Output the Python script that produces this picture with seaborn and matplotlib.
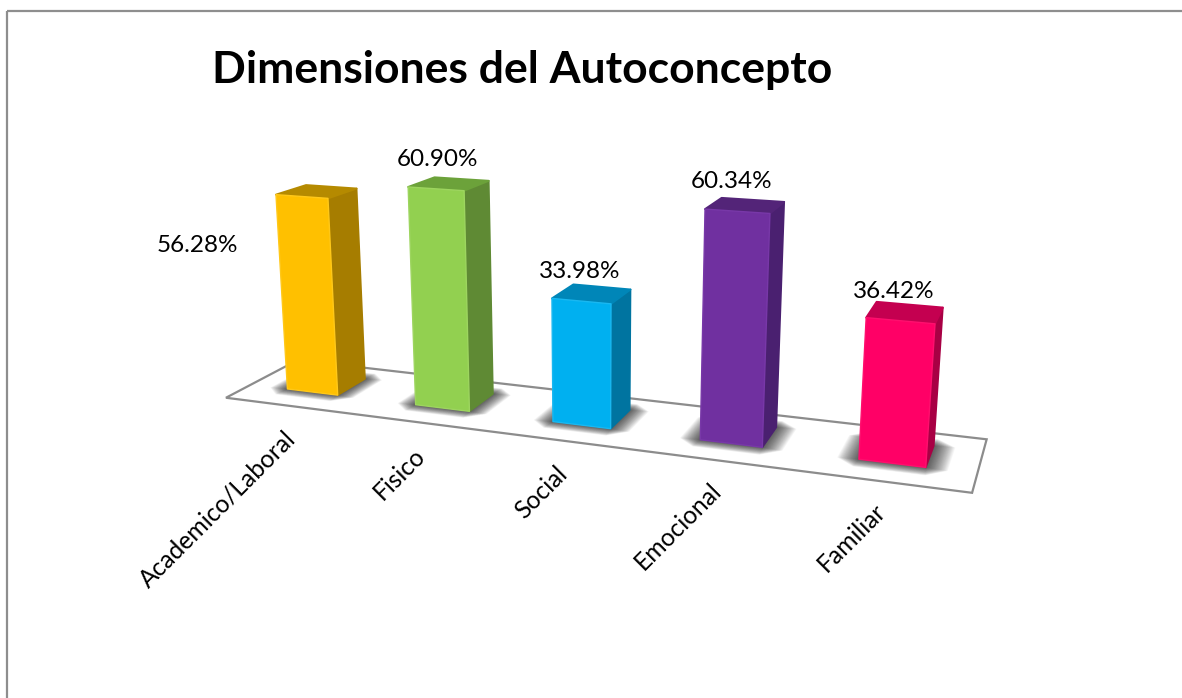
import numpy as np
import pandas as pd
import matplotlib
matplotlib.use("Agg")
import matplotlib.pyplot as plt
import seaborn as sns
from matplotlib.patches import Polygon, Rectangle
from matplotlib.transforms import Affine2D, Transform

categories = ["Academico/Laboral", "Fisico", "Social", "Emocional", "Familiar"]
values = [56.28, 60.90, 33.98, 60.34, 36.42]
value_labels = ["56.28%", "60.90%", "33.98%", "60.34%", "36.42%"]
front_colors = ["#FFC000", "#92D050", "#00B0F0", "#7030A0", "#FF0066"]
side_colors = ["#A67D00", "#5F8A34", "#0074A0", "#4A2070", "#A80044"]
top_colors = ["#B58A00", "#6CA23A", "#0086B8", "#532478", "#C40050"]
rim_colors = ["#FFC819", "#9DD55F", "#19B8F1", "#7838A8", "#FF0F6E"]

title = "Dimensiones del Autoconcepto"

# Camera of the 3D view: (category, value, depth, 1) -> image pixels
CAMERA = np.array([
    [115.25129, -0.382353, 40.095747, 312.386233],
    [2.412947, -3.600643, -2.69024, 392.018095],
    [-0.033258, -0.000643, 0.035584, 1.0],
])
BAR_WIDTH = 0.40
BAR_DEPTH = 1.0
FLOOR_X = (-0.495, 4.50)
FLOOR_Z = (-0.80, 1.60)

WIDTH, HEIGHT = 1182, 698


def project(x, v, z):
    """Project world points to image pixels."""
    world = np.column_stack([x, v, z, np.ones_like(x, dtype=float)])
    h = world @ CAMERA.T
    return h[:, :2] / h[:, 2:]


class FrontPlane(Transform):
    """Perspective map of the category/value plane at depth zero."""
    input_dims = output_dims = 2
    is_affine = False

    def transform_non_affine(self, xy):
        xy = np.asarray(xy, dtype=float)
        return project(xy[:, 0], xy[:, 1], np.zeros(len(xy)))


sns.set_theme(style="white")
plt.rcParams["font.family"] = ["Lato", "DejaVu Sans"]

fig = plt.figure(figsize=(WIDTH / 100, HEIGHT / 100), dpi=100, facecolor="white")
ax = fig.add_axes([0, 0, 1, 1])

frame = pd.DataFrame({"dimension": categories, "percent": values})
sns.barplot(data=frame, x="dimension", y="percent", hue="dimension",
            palette=front_colors, width=BAR_WIDTH, saturation=1,
            legend=False, dodge=False, ax=ax, zorder=5)
ax.set_axis_off()

pixels = Affine2D().scale(1, -1).translate(0, HEIGHT)
front_tf = FrontPlane() + pixels

# Chart frame runs off the right and bottom of the canvas
fig.add_artist(Rectangle((7, 10.5), WIDTH + 100, HEIGHT + 100, transform=pixels,
                         fill=False, edgecolor="#8E8E8E", linewidth=1.6))


def face(xs, vs, zs, **kw):
    pts = project(np.array(xs, float), np.array(vs, float), np.array(zs, float))
    ax.add_patch(Polygon(pts, closed=True, transform=pixels, clip_on=False, **kw))


# Floor plate
x0, x1 = FLOOR_X
z0, z1 = FLOOR_Z
face([x0, x1, x1, x0], [0, 0, 0, 0], [z0, z0, z1, z1],
     facecolor="white", edgecolor="#8C8C8C", linewidth=1.6, zorder=1, joinstyle="miter")

bars = [b for b in ax.patches if isinstance(b, Rectangle) and b.get_height() > 0][:len(categories)]

# Soft contact shadows on the floor
for bar in bars:
    l, r = bar.get_x(), bar.get_x() + bar.get_width()
    for m in np.linspace(0.13, 0.0, 26):
        mz = m * 2.6
        cx, cz = m * 0.9, mz * 0.9
        xs = [l - m + cx, r + m - cx, r + m, r + m, r + m - cx, l - m + cx, l - m, l - m]
        zs = [-mz, -mz, -mz + cz, BAR_DEPTH + mz - cz, BAR_DEPTH + mz, BAR_DEPTH + mz,
              BAR_DEPTH + mz - cz, -mz + cz]
        face(xs, [0] * 8, zs, facecolor="black", edgecolor="none", alpha=0.035, zorder=2)

# Side and top faces follow each bar drawn by seaborn
for bar, side, top, rim in zip(bars, side_colors, top_colors, rim_colors):
    l, r, v = bar.get_x(), bar.get_x() + bar.get_width(), bar.get_height()
    face([r, r, r, r], [0, v, v, 0], [0, 0, BAR_DEPTH, BAR_DEPTH],
         facecolor=side, edgecolor=side, linewidth=1.2, zorder=3, joinstyle="round")
    face([l, r, r, l], [v, v, v, v], [0, 0, BAR_DEPTH, BAR_DEPTH],
         facecolor=top, edgecolor=top, linewidth=1.4, zorder=4, joinstyle="round")
    bar.set_transform(front_tf)
    bar.set_clip_on(False)
    bar.set_edgecolor(rim)
    bar.set_linewidth(1.0)
    bar.set_joinstyle("round")

# Value labels sit near the rear top edge of each bar
label_offsets = [(-134, -59), (-24, 20), (-22, 15), (-21, 18), (-16, 13)]
for bar, text, (dx, dy) in zip(bars, value_labels, label_offsets):
    cx = bar.get_x() + bar.get_width() / 2
    px = project(np.array([cx]), np.array([bar.get_height()]), np.array([BAR_DEPTH]))[0]
    ax.annotate(text, xy=px, xycoords=pixels, xytext=(dx, dy), textcoords="offset pixels",
                ha="center", va="center", fontsize=17.5, color="black", zorder=7)

# Category labels hang off the front edge of the floor
tick_offsets = [(3, 29), (0, 29), (-1, 29), (-1, 26), (-2, 26)]
for i, (name, (dx, dy)) in enumerate(zip(categories, tick_offsets)):
    px = project(np.array([float(i)]), np.array([0.0]), np.array([z0]))[0]
    ax.text(px[0] + dx, px[1] + dy, name, transform=pixels, rotation=45,
            rotation_mode="anchor", ha="right", va="center",
            fontsize=17.7, color="black", zorder=7)

ax.text(212, 83, title, transform=pixels, ha="left", va="baseline",
        fontsize=32, fontweight="bold", color="black", zorder=7)

fig.savefig("out.png", dpi=100, facecolor="white")
